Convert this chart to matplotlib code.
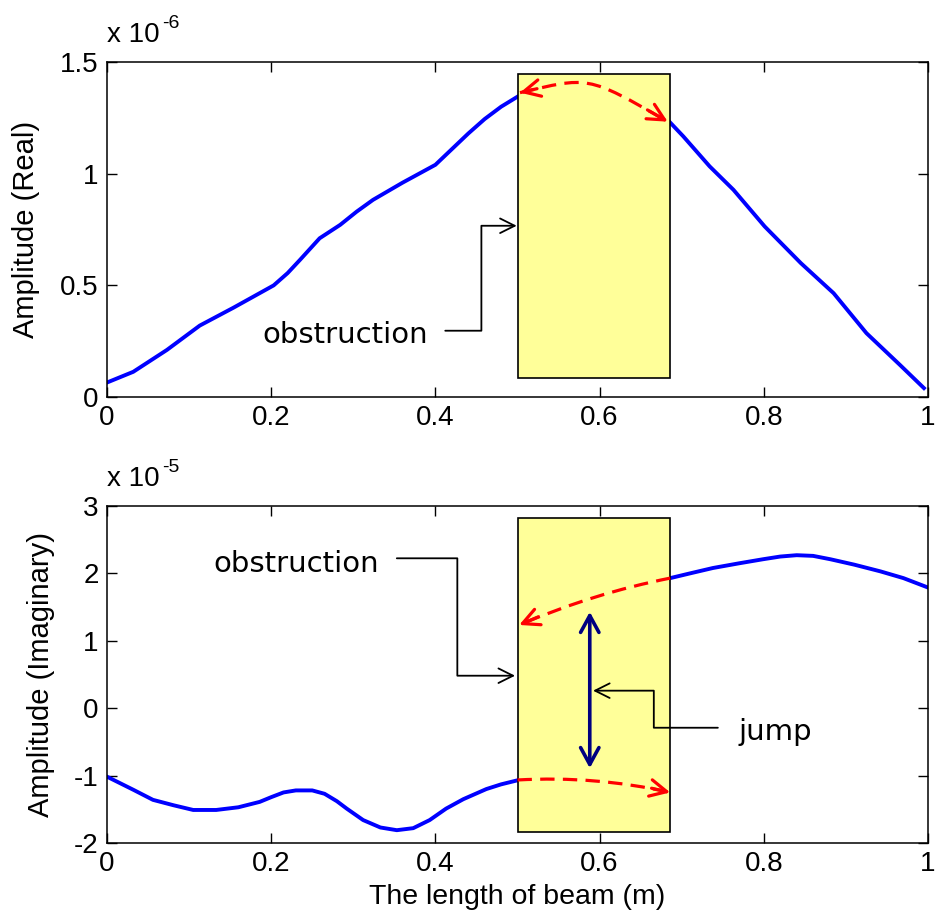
import numpy as np
import matplotlib
matplotlib.use("Agg")
import matplotlib.pyplot as plt
from matplotlib.patches import Rectangle, PathPatch, FancyArrowPatch
from matplotlib.path import Path

plt.rcParams['font.family'] = ['Liberation Sans', 'DejaVu Sans']

# ---- data -------------------------------------------------------------
# Real part of the amplitude (units of 1e-6), either side of the obstruction
x_real_left = [0.0, 0.032, 0.073, 0.113, 0.154, 0.203, 0.22, 0.235, 0.259,
               0.284, 0.304, 0.324, 0.36, 0.38, 0.40, 0.42, 0.44, 0.46,
               0.48, 0.50]
real_left = [0.065, 0.113, 0.211, 0.32, 0.40, 0.50, 0.555, 0.614, 0.711,
             0.771, 0.83, 0.883, 0.96, 1.00, 1.04, 1.11, 1.18, 1.245,
             1.30, 1.345]
x_real_right = [0.686, 0.702, 0.734, 0.763, 0.801, 0.845, 0.885, 0.925,
                0.966, 0.995]
real_right = [1.229, 1.167, 1.033, 0.928, 0.764, 0.60, 0.465, 0.286,
              0.143, 0.04]

# Imaginary part of the amplitude (units of 1e-5)
x_imag_left = [0.0, 0.032, 0.056, 0.081, 0.105, 0.133, 0.16, 0.186, 0.20,
               0.215, 0.23, 0.25, 0.265, 0.28, 0.292, 0.312, 0.333, 0.353,
               0.373, 0.393, 0.413, 0.434, 0.462, 0.48, 0.50]
imag_left = [-1.016, -1.21, -1.36, -1.44, -1.51, -1.51, -1.47, -1.39, -1.32,
             -1.25, -1.22, -1.22, -1.27, -1.38, -1.49, -1.66, -1.77, -1.81,
             -1.78, -1.66, -1.49, -1.35, -1.20, -1.13, -1.07]
x_imag_right = [0.686, 0.71, 0.738, 0.77, 0.799, 0.82, 0.840, 0.86, 0.881,
                0.91, 0.942, 0.97, 1.0]
imag_right = [1.93, 2.0, 2.08, 2.15, 2.21, 2.25, 2.27, 2.26, 2.21, 2.13,
              2.03, 1.93, 1.79]

# Obstruction zone along the beam
obs_start, obs_end = 0.5, 0.686

x_ticks = [0, 0.2, 0.4, 0.6, 0.8, 1]
x_tick_labels = ['0', '0.2', '0.4', '0.6', '0.8', '1']
real_ticks = [0, 0.5, 1, 1.5]
real_tick_labels = ['0', '0.5', '1', '1.5']
imag_ticks = [-2, -1, 0, 1, 2, 3]
imag_tick_labels = ['-2', '-1', '0', '1', '2', '3']

# ---- styling ----------------------------------------------------------
BLUE = '#0000ff'
RED = '#ff0000'
NAVY = '#000080'
BOX = '#ffff99'
TICK_FS = 20
NOTE_FONT = 'DejaVu Sans'
NOTE_FS = 21

fig = plt.figure(figsize=(9.36, 9.21), dpi=100)
ax1 = fig.add_axes([0.1143, 0.5689, 0.8772, 0.3637])
ax2 = fig.add_axes([0.1143, 0.0847, 0.8772, 0.3659])


def style_axes(ax, yticks, ylabels):
    ax.set_xlim(0, 1)
    ax.set_xticks(x_ticks)
    ax.set_xticklabels(x_tick_labels)
    ax.set_yticks(yticks)
    ax.set_yticklabels(ylabels)
    ax.tick_params(direction='in', length=7, width=1.0, top=True, right=True,
                   labelsize=TICK_FS, pad=6)
    for sp in ax.spines.values():
        sp.set_linewidth(1.1)


def px(ax, xa, xb):
    """Horizontal distance between two data x positions, in display pixels."""
    a = ax.transData.transform((xa, 0))[0]
    b = ax.transData.transform((xb, 0))[0]
    return abs(b - a)


def elbow_note(ax, start, corner_x, tip, angle_a, angle_b):
    arm_a = px(ax, start[0], corner_x)
    arm_b = px(ax, corner_x, tip[0])
    ax.annotate('', xy=tip, xytext=start,
                arrowprops=dict(arrowstyle='->,head_length=0.7,head_width=0.35',
                                mutation_scale=15, lw=1.3, color='black',
                                shrinkA=0, shrinkB=0,
                                connectionstyle=f'arc,angleA={angle_a},armA={arm_a},'
                                                f'angleB={angle_b},armB={arm_b},rad=0'),
                zorder=6)


def dashed_curve(ax, pts, head_start, head_end):
    """Dashed red Bezier (quadratic for 3 points, cubic for 4) with open heads."""
    code = Path.CURVE3 if len(pts) == 3 else Path.CURVE4
    path = Path(pts, [Path.MOVETO] + [code] * (len(pts) - 1))
    ax.add_patch(PathPatch(path, fill=False, ec=RED, lw=2.3,
                           ls=(0, (4.5, 2.6)), zorder=5, capstyle='butt'))
    ends = ((pts[0], pts[1], head_start), (pts[-1], pts[-2], head_end))
    for tip, ctrl, on in ends:
        if not on:
            continue
        tip = np.array(tip)
        tail = tip + 0.25 * (np.array(ctrl) - tip)
        ax.annotate('', xy=tuple(tip), xytext=tuple(tail),
                    arrowprops=dict(arrowstyle='->,head_length=0.6,head_width=0.3',
                                    mutation_scale=20, lw=2.3, color=RED,
                                    shrinkA=0, shrinkB=0),
                    zorder=5)


def scale_note(ax, exponent):
    base = ax.text(0.0, 1.06, 'x 10', transform=ax.transAxes,
                   fontsize=20, ha='left', va='baseline')
    ax.annotate(exponent, xy=(1.0, 1.0), xycoords=base,
                xytext=(1.5, -1), textcoords='offset points',
                fontsize=14, ha='left', va='center')


# ---- top panel: real part --------------------------------------------
style_axes(ax1, real_ticks, real_tick_labels)
ax1.set_ylim(0, 1.5)
ax1.plot(x_real_left, real_left, color=BLUE, lw=2.8, zorder=2)
ax1.plot(x_real_right, real_right, color=BLUE, lw=2.8, zorder=2)
ax1.add_patch(Rectangle((obs_start, 0.087), obs_end - obs_start, 1.448 - 0.087,
                        fc=BOX, ec='black', lw=1.2, zorder=3))
dashed_curve(ax1, [(0.503, 1.363), (0.586, 1.434), (0.584, 1.444),
                   (0.683, 1.233)], True, True)
ax1.text(0.189, 0.242, 'obstruction', family=NOTE_FONT, fontsize=NOTE_FS,
         ha='left', va='baseline', zorder=6)
elbow_note(ax1, (0.412, 0.297), 0.456, (0.499, 0.767), 0, 180)
ax1.set_ylabel('Amplitude (Real)', fontsize=21)
ax1.yaxis.set_label_coords(-0.0816, 0.5)
scale_note(ax1, '-6')

# ---- bottom panel: imaginary part ------------------------------------
style_axes(ax2, imag_ticks, imag_tick_labels)
ax2.set_ylim(-2, 3)
ax2.plot(x_imag_left, imag_left, color=BLUE, lw=2.8, zorder=2)
ax2.plot(x_imag_right, imag_right, color=BLUE, lw=2.8, zorder=2)
ax2.add_patch(Rectangle((obs_start, -1.84), obs_end - obs_start, 2.82 + 1.84,
                        fc=BOX, ec='black', lw=1.2, zorder=3))
dashed_curve(ax2, [(0.686, 1.93), (0.594, 1.71), (0.502, 1.235)], False, True)
dashed_curve(ax2, [(0.5, -1.065), (0.595, -1.0), (0.686, -1.25)], False, True)
ax2.add_patch(FancyArrowPatch((0.588, -0.89), (0.588, 1.43),
                              arrowstyle='<->,head_length=0.55,head_width=0.3',
                              mutation_scale=22, lw=2.6, color=NAVY,
                              shrinkA=0, shrinkB=0, zorder=5))
ax2.text(0.129, 2.025, 'obstruction', family=NOTE_FONT, fontsize=NOTE_FS,
         ha='left', va='baseline', zorder=6)
elbow_note(ax2, (0.353, 2.224), 0.4267, (0.497, 0.482), 0, 180)
ax2.text(0.769, -0.47, 'jump', family=NOTE_FONT, fontsize=NOTE_FS,
         ha='left', va='baseline', zorder=6)
elbow_note(ax2, (0.744, -0.29), 0.666, (0.592, 0.26), 180, 0)
ax2.set_ylabel('Amplitude (Imaginary)', fontsize=21)
ax2.yaxis.set_label_coords(-0.0633, 0.5)
ax2.set_xlabel('The length of beam (m)', fontsize=20.5, labelpad=5)
scale_note(ax2, '-5')

fig.savefig('out.png', dpi=100)
